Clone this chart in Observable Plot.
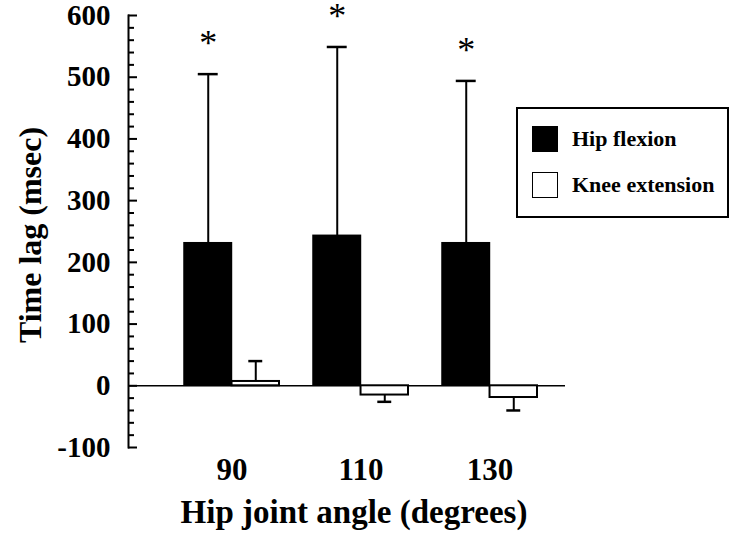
<!DOCTYPE html>
<html>
<head>
<meta charset="utf-8">
<script src="https://cdn.jsdelivr.net/npm/d3@7"></script>
<script src="https://cdn.jsdelivr.net/npm/@observablehq/plot@0.6"></script>
<style>
  html, body { margin: 0; padding: 0; background: #fff; }
  #wrap { position: relative; width: 732px; height: 543px; font-family: "Liberation Serif", "Times New Roman", serif; }
  #legend { position: absolute; left: 516px; top: 107px; width: 209px; height: 107px; border: 2px solid #000; background: #fff; box-sizing: content-box; }
  .li { position: absolute; left: 14px; display: flex; align-items: center; font-weight: bold; font-size: 22px; color: #000; }
  .sw { width: 26px; height: 26px; border: 1.5px solid #000; box-sizing: border-box; margin-right: 14px; }
</style>
</head>
<body>
<div id="wrap"></div>
<script>
// ---- data ----
const angles = ["90", "110", "130"];
const seriesNames = ["Hip flexion", "Knee extension"];
const hipMean = [231, 243, 231];
const hipSD = [274, 306, 263];
const kneeMean = [7, -15, -19];
const kneeSD = [33, 11, 21];
const yTickLabels = [-100, 0, 100, 200, 300, 400, 500, 600];
const yMinorTicks = [-80, -60, -40, -20, 20, 40, 60, 80, 120, 140, 160, 180, 220, 240, 260, 280, 320, 340, 360, 380, 420, 440, 460, 480, 520, 540, 560, 580];
const significant = [true, true, true];
const yTitle = "Time lag (msec)";
const xTitle = "Hip joint angle (degrees)";

const hipRows = angles.map((a, i) => ({angle: a, series: seriesNames[0], mean: hipMean[i], end: hipMean[i] + hipSD[i], sig: significant[i]}));
const kneeRows = angles.map((a, i) => ({angle: a, series: seriesNames[1], mean: kneeMean[i], end: kneeMean[i] + Math.sign(kneeMean[i]) * kneeSD[i]}));

const W = 732, H = 543, mL = 128, mR = 167, mT = 15, mB = 96;
const xOpts = {type: "band", domain: angles, paddingInner: 0.266, paddingOuter: 0.32, align: 0.663};
const bw = d3.scaleBand().domain(angles).range([mL, W - mR]).paddingInner(0.266).paddingOuter(0.32).align(0.663).bandwidth();
const half = bw / 2;
const frameW = W - mL - mR;
const font = "'Liberation Serif', 'Times New Roman', serif";

const chart = Plot.plot({
  width: W, height: H,
  marginLeft: mL, marginRight: mR, marginTop: mT, marginBottom: mB,
  x: {...xOpts, axis: null},
  y: {domain: [-100, 600], axis: null},
  style: {fontFamily: font, background: "white", color: "black", overflow: "visible"},
  marks: [
    Plot.frame({anchor: "left", stroke: "black", strokeWidth: 2}),
    Plot.ruleY(yTickLabels, {insetRight: frameW - 9, stroke: "black", strokeWidth: 2}),
    Plot.ruleY(yMinorTicks, {insetRight: frameW - 6, stroke: "black", strokeWidth: 2}),
    Plot.axisY(yTickLabels, {tickSize: 0, tickPadding: 18, tickFormat: d => String(d), fontSize: 29, fontWeight: "bold", label: null, fill: "black"}),
    Plot.axisX({tickSize: 0, tickPadding: 10, fontSize: 31, fontWeight: "bold", label: null, fill: "black"}),
    Plot.ruleY([0], {stroke: "black", strokeWidth: 1.5}),
    Plot.barY(hipRows, {x: "angle", y: "mean", fill: "black", stroke: "black", strokeWidth: 1.5, insetRight: half}),
    Plot.barY(kneeRows, {x: "angle", y: "mean", fill: "white", stroke: "black", strokeWidth: 2, insetLeft: half}),
    Plot.ruleX(hipRows, {x: "angle", y1: "mean", y2: "end", dx: -half / 2, stroke: "black", strokeWidth: 2}),
    Plot.ruleX(kneeRows, {x: "angle", y1: "mean", y2: "end", dx: half / 2, stroke: "black", strokeWidth: 2}),
    Plot.tickY(hipRows, {x: "angle", y: "end", insetLeft: half / 2 - 10, insetRight: bw - half / 2 - 10, stroke: "black", strokeWidth: 2.5}),
    Plot.tickY(kneeRows, {x: "angle", y: "end", insetLeft: 1.5 * half - 7, insetRight: bw - 1.5 * half - 7, stroke: "black", strokeWidth: 2.5}),
    Plot.text(hipRows.filter(d => d.sig), {x: "angle", y: "end", text: () => "*", dx: -half / 2, dy: -30.5, fontSize: 36, fill: "black"}),
    Plot.text([xTitle], {frameAnchor: "bottom", text: d => d, dx: 7, dy: 75, fontSize: 33, fontWeight: "bold", fill: "black"})
  ]
});
const wrap = document.getElementById("wrap");
wrap.appendChild(chart);

// y-axis title as real SVG text
d3.select(chart).append("text")
  .attr("transform", "translate(41,235) rotate(-90)")
  .attr("text-anchor", "middle")
  .attr("font-family", font)
  .attr("font-weight", "bold")
  .attr("font-size", 32)
  .attr("fill", "#000")
  .text(yTitle);

// legend
const leg = document.createElement("div");
leg.id = "legend";
const fills = ["#000", "#fff"];
seriesNames.forEach((s, i) => {
  const item = document.createElement("div");
  item.className = "li";
  item.style.top = (17 + i * 46) + "px";
  const sw = document.createElement("div");
  sw.className = "sw";
  sw.style.background = fills[i];
  item.appendChild(sw);
  const t = document.createElement("span");
  t.textContent = s;
  item.appendChild(t);
  leg.appendChild(item);
});
wrap.appendChild(leg);
</script>
</body>
</html>
